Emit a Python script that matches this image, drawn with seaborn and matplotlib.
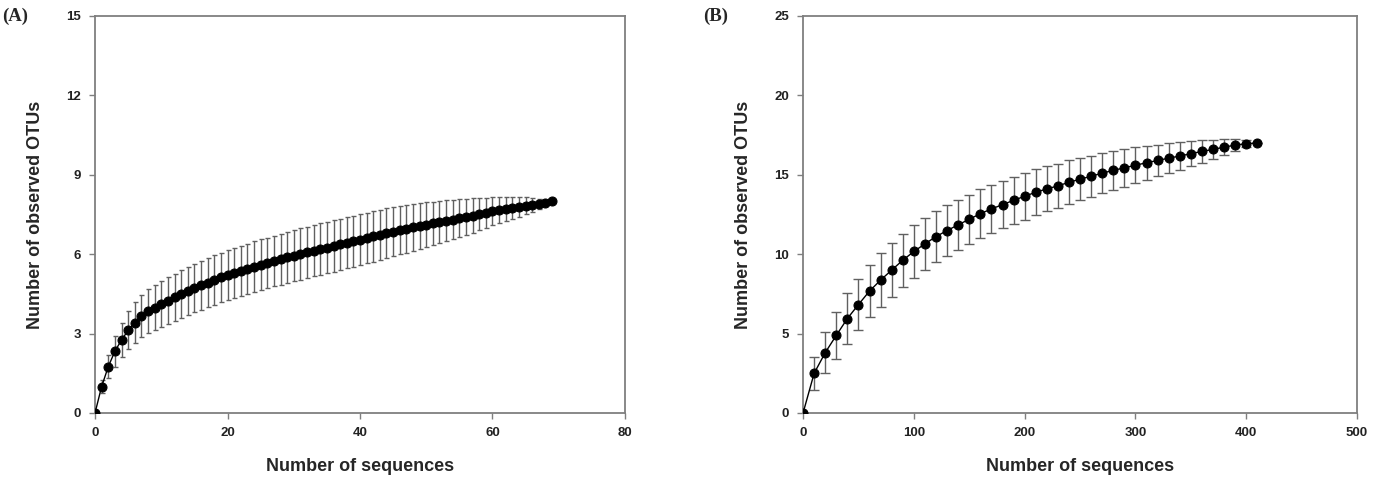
import numpy as np
import pandas as pd
import seaborn as sns
import matplotlib.pyplot as plt

# 稀释曲线数据
seq_a = list(range(0, 70))
otu_a = [0.0, 1.0, 1.75, 2.33, 2.76, 3.12, 3.41, 3.67, 3.84, 3.98,
         4.12, 4.25, 4.37, 4.49, 4.61, 4.72, 4.83, 4.93, 5.03, 5.12,
         5.21, 5.29, 5.37, 5.45, 5.53, 5.60, 5.67, 5.74, 5.81, 5.88,
         5.95, 6.01, 6.07, 6.13, 6.19, 6.25, 6.31, 6.37, 6.43, 6.49,
         6.55, 6.61, 6.67, 6.73, 6.79, 6.85, 6.91, 6.96, 7.01, 7.06,
         7.11, 7.16, 7.21, 7.26, 7.31, 7.36, 7.41, 7.46, 7.52, 7.57,
         7.62, 7.67, 7.71, 7.75, 7.79, 7.83, 7.87, 7.91, 7.95, 8.0]
err_a = [0.0, 0.25, 0.44, 0.58, 0.65, 0.72, 0.77, 0.80, 0.83, 0.85,
         0.87, 0.88, 0.89, 0.90, 0.91, 0.92, 0.93, 0.93, 0.94, 0.94,
         0.95, 0.95, 0.95, 0.95, 0.96, 0.96, 0.96, 0.96, 0.96, 0.96,
         0.97, 0.97, 0.97, 0.97, 0.97, 0.97, 0.97, 0.97, 0.97, 0.97,
         0.96, 0.96, 0.95, 0.95, 0.94, 0.93, 0.92, 0.91, 0.89, 0.87,
         0.85, 0.83, 0.80, 0.77, 0.74, 0.71, 0.68, 0.65, 0.61, 0.57,
         0.53, 0.49, 0.45, 0.41, 0.37, 0.32, 0.26, 0.19, 0.10, 0.0]

seq_b = list(range(0, 420, 10))
otu_b = [0.0, 2.5, 3.8, 4.89, 5.95, 6.83, 7.68, 8.37, 9.0, 9.62,
         10.17, 10.65, 11.11, 11.49, 11.85, 12.2, 12.55, 12.85, 13.12, 13.39,
         13.65, 13.9, 14.11, 14.3, 14.53, 14.72, 14.91, 15.1, 15.28, 15.44,
         15.6, 15.76, 15.9, 16.05, 16.18, 16.33, 16.47, 16.6, 16.74, 16.87,
         16.96, 17.0]
err_b = [0.0, 1.05, 1.3, 1.5, 1.6, 1.62, 1.65, 1.7, 1.68, 1.68,
         1.68, 1.62, 1.6, 1.58, 1.57, 1.55, 1.55, 1.52, 1.5, 1.48,
         1.47, 1.45, 1.42, 1.4, 1.37, 1.33, 1.3, 1.26, 1.22, 1.18,
         1.12, 1.06, 1.0, 0.93, 0.86, 0.78, 0.7, 0.6, 0.5, 0.38,
         0.22, 0.0]

x_label = 'Number of sequences'
y_label = 'Number of observed OTUs'

sns.set_style('white')
plt.rcParams['font.family'] = ['Liberation Sans', 'DejaVu Sans']

grey = '#7f7f7f'


def draw_panel(ax, x, y, e, capsize, msize, xlim, xticks, ylim, yticks, tag, tag_x):
    df = pd.DataFrame({'x': x, 'y': y, 'e': e})
    ax.errorbar(df['x'], df['y'], yerr=df['e'], fmt='none', ecolor='#606060',
                elinewidth=1.0, capsize=capsize, capthick=1.0, zorder=2)
    sns.lineplot(data=df, x='x', y='y', ax=ax, color='black', linewidth=1.0,
                 marker='o', markersize=msize, markeredgecolor='black',
                 markerfacecolor='black', zorder=3)
    ax.set_xlim(*xlim)
    ax.set_ylim(*ylim)
    ax.set_xticks(xticks)
    ax.set_yticks(yticks)
    ax.set_xlabel(x_label, fontsize=13, fontweight='bold', labelpad=14)
    ax.set_ylabel(y_label, fontsize=13, fontweight='bold', labelpad=16)
    ax.tick_params(axis='both', direction='out', length=4, width=1.0,
                   color=grey, labelsize=9.5, pad=6, bottom=True, left=True)
    for lbl in ax.get_xticklabels() + ax.get_yticklabels():
        lbl.set_fontweight('bold')
        lbl.set_color('#222222')
    for sp in ax.spines.values():
        sp.set_color(grey)
        sp.set_linewidth(1.3)
    ax.text(tag_x, 1.0, tag, transform=ax.transAxes, fontsize=13.5,
            fontweight='bold', family='Liberation Serif', va='center', ha='left')


fig = plt.figure(figsize=(13.73, 4.8), dpi=100)
ax1 = fig.add_axes([0.0692, 0.1396, 0.3860, 0.8271])
ax2 = fig.add_axes([0.5849, 0.1396, 0.4035, 0.8271])

draw_panel(ax1, seq_a, otu_a, err_a, 1.8, 6.5, (0, 80), [0, 20, 40, 60, 80],
           (0, 15), [0, 3, 6, 9, 12, 15], '(A)', -0.176)
draw_panel(ax2, seq_b, otu_b, err_b, 3.5, 6.5, (0, 500), [0, 100, 200, 300, 400, 500],
           (0, 25), [0, 5, 10, 15, 20, 25], '(B)', -0.18)

fig.savefig('out.png', dpi=100)
